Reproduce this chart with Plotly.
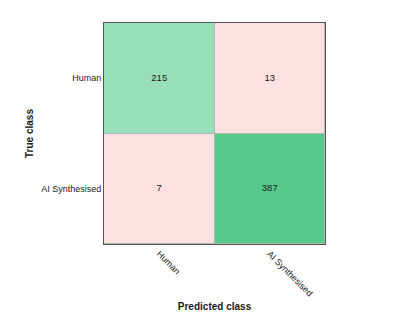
import plotly.graph_objects as go
import numpy as np

classes = ["Human", "AI Synthesised"]
counts = [[215, 13],
          [7, 387]]

z = np.array(counts, dtype=float)
diag = np.where(np.eye(2) == 1, z, np.nan)
off = np.where(np.eye(2) == 0, z, np.nan)

fig = go.Figure()
fig.add_trace(go.Heatmap(
    z=diag, x=classes, y=classes, zmin=0, zmax=max(z.max(), 1),
    colorscale=[[0, "#ffffff"], [0.555, "#98dfb8"], [1, "#57c98a"]],
    showscale=False, xgap=1, ygap=1, hoverinfo="skip",
))
fig.add_trace(go.Heatmap(
    z=off, x=classes, y=classes,
    colorscale=[[0, "#fde0e1"], [1, "#fde0e1"]],
    showscale=False, xgap=1, ygap=1, hoverinfo="skip",
))
fig.add_trace(go.Scatter(
    x=[classes[j] for i in range(2) for j in range(2)],
    y=[classes[i] for i in range(2) for j in range(2)],
    text=[str(counts[i][j]) for i in range(2) for j in range(2)],
    mode="text", textfont=dict(size=9.5, color="#1a1a1a", family="Liberation Sans"),
    hoverinfo="skip", showlegend=False,
))

fig.update_layout(
    width=415, height=312,
    margin=dict(l=104, r=90, t=23, b=68),
    plot_bgcolor="#b0b8b2", paper_bgcolor="white",
    font=dict(family="Liberation Sans", size=9, color="#1a1a1a"),
    showlegend=False,
)
fig.update_xaxes(
    automargin=False,
    tickangle=45, showline=True, linecolor="#555555", linewidth=1, mirror=True,
    ticks="", showgrid=False, zeroline=False,
    title=dict(text="<b>Predicted class</b>", font=dict(size=10), standoff=10),
    tickfont=dict(size=9),
)
fig.update_yaxes(
    automargin=False,
    autorange="reversed", showline=True, linecolor="#555555", linewidth=1, mirror=True,
    ticks="", showgrid=False, zeroline=False,
    title=dict(text="<b>True class</b>", font=dict(size=10), standoff=5),
    tickfont=dict(size=9),
)
fig.write_html("out.html", config={"displayModeBar": False},
               post_script="document.body.style.margin='0';document.body.style.overflow='hidden';")
